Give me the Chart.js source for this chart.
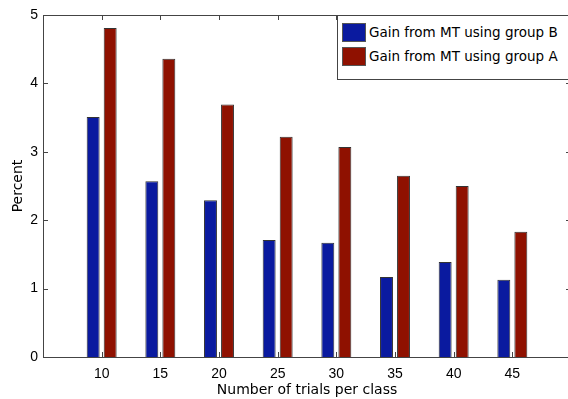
<!DOCTYPE html>
<html>
<head>
<meta charset="utf-8">
<script src="https://cdn.jsdelivr.net/npm/chart.js@4/dist/chart.umd.min.js"></script>
<style>
html, body { margin: 0; padding: 0; background: #fff; overflow: hidden; }
#wrap { position: relative; width: 568px; height: 399px; overflow: hidden; }
#legend {
    position: absolute; left: 337px; top: 15px; width: 240px; height: 65px;
    box-sizing: border-box; border: 1px solid #444; background: #fff;
    font: 13.5px "DejaVu Sans", sans-serif; color: #000;
}
.row { position: absolute; left: 4px; height: 19px; line-height: 19px; white-space: nowrap; }
.sw { display: inline-block; width: 24px; height: 19px; vertical-align: top; box-sizing: border-box; border: 1px solid #555; margin-right: 3px; }
</style>
</head>
<body>
<div id="wrap">
    <!-- canvas a little wider than the window: the axes box's right edge is cut off in the reference -->
    <canvas id="barChart" width="571" height="399"></canvas>
    <div id="legend"></div>
</div>
<script>
// values
const trials = [10, 15, 20, 25, 30, 35, 40, 45];
const gainB = [3.51, 2.57, 2.29, 1.71, 1.67, 1.17, 1.39, 1.13];
const gainA = [4.81, 4.36, 3.69, 3.22, 3.07, 2.65, 2.50, 1.83];
const seriesLabels = ['Gain from MT using group B', 'Gain from MT using group A'];
const seriesColors = ['#0A1A9F', '#8F1100'];
const yTicks = [0, 1, 2, 3, 4, 5];

const FONT = '"Liberation Sans", Arial, sans-serif';
const TITLE_FONT = '"DejaVu Sans", sans-serif';

// MATLAB style box with inward tick marks
const boxTicks = {
    id: 'boxTicks',
    afterDraw(chart) {
        const { ctx, chartArea: a, scales: { x, y } } = chart;
        ctx.save();
        ctx.strokeStyle = '#444';
        ctx.lineWidth = 1;
        ctx.beginPath();
        ctx.rect(a.left + 0.5, a.top + 0.5, a.right - a.left - 1, a.bottom - a.top);
        yTicks.forEach(v => {
            const py = Math.round(y.getPixelForValue(v)) + 0.5;
            ctx.moveTo(a.left, py); ctx.lineTo(a.left + 5, py);
            ctx.moveTo(a.right, py); ctx.lineTo(a.right - 5, py);
        });
        trials.forEach(v => {
            const px = Math.round(x.getPixelForValue(v)) + 0.5;
            ctx.moveTo(px, a.bottom); ctx.lineTo(px, a.bottom - 5);
            ctx.moveTo(px, a.top); ctx.lineTo(px, a.top + 5);
        });
        ctx.stroke();
        ctx.restore();
    }
};

const chart = new Chart(document.getElementById('barChart').getContext('2d'), {
    type: 'bar',
    data: {
        datasets: [{
            label: seriesLabels[0],
            data: trials.map((t, i) => ({ x: t, y: gainB[i] })),
            backgroundColor: seriesColors[0],
            borderColor: '#333',
            borderWidth: 1
        }, {
            label: seriesLabels[1],
            data: trials.map((t, i) => ({ x: t, y: gainA[i] })),
            backgroundColor: seriesColors[1],
            borderColor: '#333',
            borderWidth: 1
        }]
    },
    options: {
        responsive: false,
        animation: false,
        categoryPercentage: 0.58,
        barPercentage: 0.76,
        layout: { padding: { top: 15, right: 0, left: 0, bottom: 0 } },
        plugins: {
            legend: { display: false },
            tooltip: { enabled: false }
        },
        scales: {
            x: {
                type: 'linear',
                min: 5,
                max: 50,
                offset: false,
                grid: { display: false, drawTicks: false, offset: false },
                border: { display: false },
                afterFit: s => { s.height = 42; s.paddingLeft = 0; s.paddingRight = 0; },
                ticks: {
                    stepSize: 5,
                    autoSkip: false,
                    maxRotation: 0,
                    padding: 9,
                    color: '#000',
                    font: { family: FONT, size: 14 },
                    callback: v => (v === 5 || v === 50) ? '' : v
                },
                title: {
                    display: true,
                    text: 'Number of trials per class',
                    color: '#000',
                    font: { family: TITLE_FONT, size: 14 },
                    padding: { top: 0, bottom: 0 }
                }
            },
            y: {
                min: 0,
                max: 5,
                grid: { display: false, drawTicks: false },
                border: { display: false },
                afterFit: s => { s.width = 43; },
                ticks: {
                    stepSize: 1,
                    padding: 5,
                    color: '#000',
                    font: { family: FONT, size: 14 }
                },
                title: {
                    display: true,
                    text: 'Percent',
                    color: '#000',
                    font: { family: TITLE_FONT, size: 14 },
                    padding: { top: 10, bottom: 0 }
                }
            }
        }
    },
    plugins: [boxTicks]
});

// legend drawn inside the plot, top right
const legendEl = document.getElementById('legend');
chart.data.datasets.forEach((ds, i) => {
    const row = document.createElement('div');
    row.className = 'row';
    row.style.top = (7 + i * 24) + 'px';
    row.innerHTML = '<span class="sw" style="background:' + ds.backgroundColor + '"></span>' + ds.label;
    legendEl.appendChild(row);
});
</script>
</body>
</html>
